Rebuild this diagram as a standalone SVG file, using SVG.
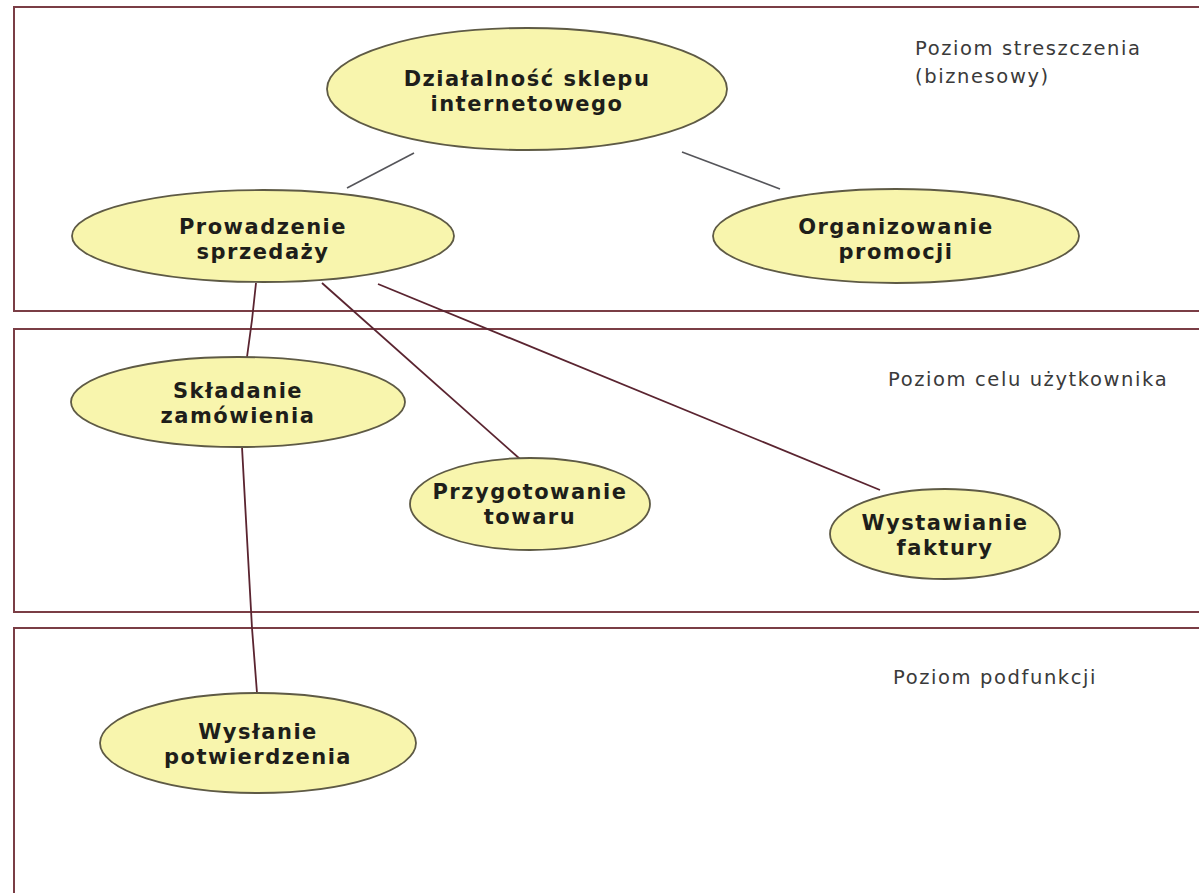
<svg xmlns="http://www.w3.org/2000/svg" width="1199" height="893" viewBox="0 0 1199 893">
<style>
.lvl{fill:none;stroke:#7a3d45;stroke-width:2}
.uc{fill:#f8f5ad;stroke:#5e5a45;stroke-width:1.8}
.t{font-family:"DejaVu Sans",Verdana,sans-serif;font-weight:bold;font-size:21px;letter-spacing:1.5px;fill:#1e1e1a;text-anchor:middle}
.lab{font-family:"DejaVu Sans",Verdana,sans-serif;font-size:19.5px;letter-spacing:1.6px;fill:#3a3a3a}
.c1{fill:none;stroke:#55555a;stroke-width:1.6}
.c2{fill:none;stroke:#5a2430;stroke-width:1.8}
</style>
<rect width="1199" height="893" fill="#ffffff"/>
<g id="levels">
<rect class="lvl" x="14" y="7" width="1200" height="304"/>
<rect class="lvl" x="14" y="329" width="1200" height="283"/>
<rect class="lvl" x="14" y="628" width="1200" height="290"/>
<text class="lab" x="915" y="55">Poziom streszczenia</text>
<text class="lab" x="915" y="83">(biznesowy)</text>
<text class="lab" x="888" y="386">Poziom celu użytkownika</text>
<text class="lab" x="893" y="684">Poziom podfunkcji</text>
</g>
<g id="connectors">
<line class="c1" x1="414" y1="153" x2="347" y2="188"/>
<line class="c1" x1="682" y1="152" x2="780" y2="189"/>
<polyline class="c2" points="256,283 252,320 247,357"/>
<line class="c2" x1="322" y1="283" x2="520" y2="459"/>
<line class="c2" x1="378" y1="284" x2="880" y2="490"/>
<polyline class="c2" points="242,447 246,520 252,628 257,693"/>
</g>
<g id="n-dzialalnosc">
<ellipse class="uc" cx="527" cy="89" rx="200" ry="61"/>
<text class="t" x="527" y="86">Działalność sklepu</text>
<text class="t" x="527" y="111">internetowego</text>
</g>
<g id="n-prowadzenie">
<ellipse class="uc" cx="263" cy="236" rx="191" ry="46"/>
<text class="t" x="263" y="234">Prowadzenie</text>
<text class="t" x="263" y="259">sprzedaży</text>
</g>
<g id="n-organizowanie">
<ellipse class="uc" cx="896" cy="236" rx="183" ry="47"/>
<text class="t" x="896" y="234">Organizowanie</text>
<text class="t" x="896" y="259">promocji</text>
</g>
<g id="n-skladanie">
<ellipse class="uc" cx="238" cy="402" rx="167" ry="45"/>
<text class="t" x="238" y="398">Składanie</text>
<text class="t" x="238" y="423">zamówienia</text>
</g>
<g id="n-przygotowanie">
<ellipse class="uc" cx="530" cy="504" rx="120" ry="46"/>
<text class="t" x="530" y="499">Przygotowanie</text>
<text class="t" x="530" y="524">towaru</text>
</g>
<g id="n-wystawianie">
<ellipse class="uc" cx="945" cy="534" rx="115" ry="45"/>
<text class="t" x="945" y="530">Wystawianie</text>
<text class="t" x="945" y="555">faktury</text>
</g>
<g id="n-wyslanie">
<ellipse class="uc" cx="258" cy="743" rx="158" ry="50"/>
<text class="t" x="258" y="739">Wysłanie</text>
<text class="t" x="258" y="764">potwierdzenia</text>
</g>
</svg>
